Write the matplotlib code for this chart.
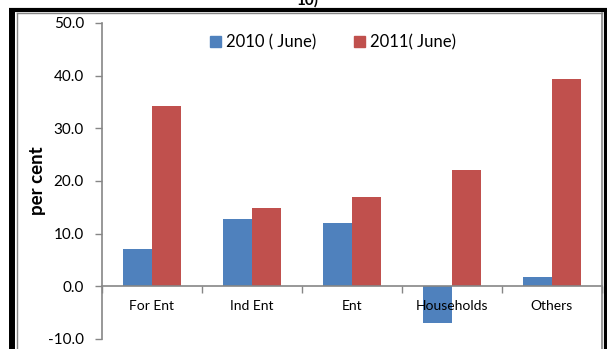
import matplotlib
matplotlib.use("Agg")
import matplotlib.pyplot as plt
from matplotlib.lines import Line2D
from matplotlib.patches import Patch
import numpy as np

plt.rcParams['font.family'] = ['Lato', 'DejaVu Sans']

categories = ["For Ent", "Ind Ent", "Ent", "Households", "Others"]
series_names = ["2010 ( June)", "2011( June)"]
values_2010 = [7.1, 12.8, 12.1, -6.9, 1.8]
values_2011 = [34.3, 14.9, 16.9, 22.1, 39.3]
y_ticks = [-10, 0, 10, 20, 30, 40, 50]

blue = "#4F81BD"
red = "#C0504D"
grey = "#868686"

W, H = 607, 349
fig = plt.figure(figsize=(W / 100, H / 100), dpi=100)

# plot area in pixel terms
left, right, top, bottom = 102, 601.5, 23, 339
ax = fig.add_axes([left / W, (H - bottom) / H, (right - left) / W, (bottom - top) / H])

x = np.arange(len(categories))
bw = 0.29
ax.bar(x - bw / 2, values_2010, bw, color=blue, zorder=1)
ax.bar(x + bw / 2, values_2011, bw, color=red, zorder=1)

ax.set_xlim(-0.5, len(categories) - 0.5)
ax.set_ylim(-10, 50)

for s in ("top", "right"):
    ax.spines[s].set_visible(False)
ax.spines["left"].set_color(grey)
ax.spines["left"].set_linewidth(1.2)
ax.spines["bottom"].set_color(grey)
ax.spines["bottom"].set_linewidth(1.2)
ax.spines["bottom"].set_position(("data", 0))

ax.set_yticks(y_ticks)
ax.set_yticklabels([f"{v:.1f}" for v in y_ticks])
ax.tick_params(axis="y", direction="out", length=5, width=1, color=grey,
               pad=8, labelsize=11)

ax.set_xticks(x)
ax.set_xticklabels(categories)
ax.set_xticks(np.arange(-0.5, len(categories), 1.0), minor=True)
ax.tick_params(axis="x", which="major", length=0, pad=10, labelsize=10)
ax.tick_params(axis="x", which="minor", direction="out", length=5, width=1, color=grey)

fig.text(37 / W, 1 - 181 / H, "per cent", rotation=90, fontsize=13.5,
         fontweight="bold", ha="center", va="center")

handles = [Patch(color=blue), Patch(color=red)]
fig.legend(handles, series_names, loc="center", bbox_to_anchor=(333 / W, 1 - 42 / H),
           ncol=2, frameon=False, fontsize=12, handlelength=0.65, handleheight=0.65,
           handletextpad=0.3, columnspacing=2.3, borderpad=0)

# clipped heading remnant at the very top
fig.text(307 / W, 1 - 5 / H, "10)", fontsize=11, fontweight="bold",
         ha="center", va="baseline")

# chart frames: thick black outer, thin grey inner
def fline(xs, ys, **kw):
    fig.add_artist(Line2D([v / W for v in xs], [1 - v / H for v in ys], **kw))

fline([12, 12], [10, H + 5], color="black", linewidth=4.3, solid_capstyle="butt")
fline([9, 607], [10, 10], color="black", linewidth=3.0, solid_capstyle="butt")
fline([605.5, 605.5], [8, H + 5], color="black", linewidth=3.0, solid_capstyle="butt")
fline([16.5, 16.5], [13, H + 5], color=grey, linewidth=1.0)
fline([16.5, 601.8], [13, 13], color=grey, linewidth=1.0)
fline([601.8, 601.8], [13, H + 5], color=grey, linewidth=1.2)

fig.savefig("out.png", dpi=100)
